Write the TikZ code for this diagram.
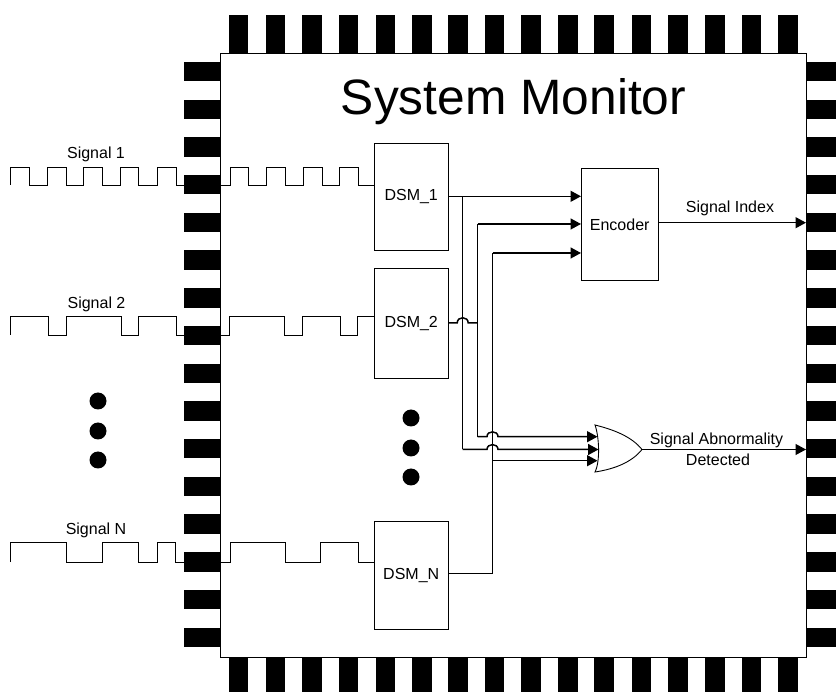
\documentclass[tikz,border=0pt]{standalone}
\usepackage{fontspec}
\setmainfont{Liberation Sans}
\usetikzlibrary{arrows.meta}
\tikzset{
  x=1pt,y=-1pt,
  pin/.style={fill=black,draw=none},
  thin line/.style={draw=black,line width=0.9pt,line join=miter},
  wire/.style={draw=black,line width=1.5pt,line join=miter},
  arrowwire/.style={wire,-{Triangle[length=10.5pt,width=11pt]}},
  block/.style={draw=black,line width=0.9pt,fill=white,inner sep=0pt,font=\fontsize{16}{19}\selectfont,anchor=north west},
  lbl/.style={inner sep=0pt,font=\fontsize{16}{19}\selectfont,align=center},
  bigdot/.style={fill=black,draw=none},
}
\begin{document}
\begin{tikzpicture}
\useasboundingbox (0,0) rectangle (836,692);
% pins
\foreach \x in {228.5,265.5,302,338.5,375.5,412,448,484.5,521,558,594,631.5,668,705,741.5,778}{
  \fill[pin] (\x,15) rectangle ++(19.5,38);
  \fill[pin] (\x,657) rectangle ++(19.5,35);
}
\foreach \k in {0,...,15}{
  \pgfmathsetmacro{\yy}{61.8+37.72*\k}
  \fill[pin] (184,\yy) rectangle ++(36,19.5);
  \fill[pin] (806,\yy) rectangle ++(30,19.5);
}
% chip
\node[draw=black,line width=1pt,fill=white,inner sep=0pt,minimum width=586pt,minimum height=604pt,anchor=north west] (chip) at (220,53) {};
\node[inner sep=0pt,font=\fontsize{49.7}{56}\selectfont] (title) at (513.5,102) {System Monitor};
% blocks
\node[block,minimum width=73.5pt,minimum height=107.5pt] (d1) at (374,142.7) {DSM\_1};
\node[block,minimum width=73.5pt,minimum height=110pt] (d2) at (374,267.8) {DSM\_2};
\node[block,minimum width=73.5pt,minimum height=108pt] (dn) at (374,520.8) {DSM\_N};
\node[block,minimum width=76.5pt,minimum height=112.5pt] (enc) at (581,167.7) {Encoder};
% coordinates
\coordinate (vA) at (462.7,196.3);
\coordinate (vB) at (477.7,224);
\coordinate (vC) at (492.7,253);
\coordinate (eA) at (581,196.3);
\coordinate (eB) at (581,224);
\coordinate (eC) at (581,253);
\coordinate (oA) at (597.5,436.7);
\coordinate (oB) at (598.5,449.5);
\coordinate (oC) at (597.5,460.7);
\coordinate (gate) at (642,449.5);
\coordinate (outE) at (806,222.7);
\coordinate (outG) at (806,449.5);
% waves
\draw[thin line] (10.5,185) -- (10.5,167) -- (29.5,167) -- (29.5,185) -- (47,185) -- (47,167) -- (66,167) -- (66,185) -- (83,185) -- (83,167) -- (102,167) -- (102,185) -- (120.5,185) -- (120.5,167) -- (138.5,167) -- (138.5,185) -- (157,185) -- (157,167) -- (176,167) -- (176,185) -- (184,185);
\draw[thin line] (220,185) -- (230,185) -- (230,167) -- (248,167) -- (248,185) -- (266.5,185) -- (266.5,167) -- (285.5,167) -- (285.5,185) -- (303,185) -- (303,167) -- (322,167) -- (322,185) -- (339,185) -- (339,167) -- (358,167) -- (358,185) -- (d1.west |- 0,185);
\draw[thin line] (10.5,335) -- (10.5,316.7) -- (48.5,316.7) -- (48.5,335) -- (66,335) -- (66,316.7) -- (121,316.7) -- (121,335) -- (138,335) -- (138,316.7) -- (176,316.7) -- (176,335) -- (184,335);
\draw[thin line] (220,335) -- (229.5,335) -- (229.5,316.7) -- (284.5,316.7) -- (284.5,335) -- (302,335) -- (302,316.7) -- (340,316.7) -- (340,335) -- (357,335) -- (357,316.7) -- (d2.west |- 0,316.7);
\draw[thin line] (10.5,562) -- (10.5,542.7) -- (66,542.7) -- (66,562) -- (102,562) -- (102,542.7) -- (138.5,542.7) -- (138.5,562) -- (157,562) -- (157,542.7) -- (175,542.7) -- (175,562) -- (184,562);
\draw[thin line] (220,562) -- (230.5,562) -- (230.5,542.7) -- (285,542.7) -- (285,562) -- (320.5,562) -- (320.5,542.7) -- (358.5,542.7) -- (358.5,562) -- (dn.west |- 0,562);
% OR gate
\path[draw=black,line width=0.9pt,fill=white] (595,425) .. controls (599,436) and (600.5,461) .. (595,472) .. controls (615,469) and (632,462) .. (gate) .. controls (632,437) and (615,430) .. cycle;
% wires
\draw[arrowwire] (d1.east |- eA) -- (eA);
\draw[wire] (vA) -- (vA |- oB);
\draw[arrowwire] (vA |- oB) -- (487,449.5) .. controls (487,443) and (498,443) .. (498,449.5) -- (oB);
\draw[wire] (d2.east |- 0,323) -- (457.2,323) .. controls (457.2,316) and (468.2,316) .. (468.2,323) -- (477.7,323);
\draw[wire] (vB |- oA) -- (vB);
\draw[arrowwire] (vB) -- (eB);
\draw[arrowwire] (vB |- oA) -- (487,436.7) .. controls (487,430.2) and (498,430.2) .. (498,436.7) -- (oA);
\draw[wire,line width=1.2pt] (dn.east |- 0,573.5) -- (vC |- 0,573.5) -- (vC);
\draw[arrowwire] (vC) -- (eC);
\draw[arrowwire] (vC |- oC) -- (oC);
\draw[arrowwire] (enc.east |- outE) -- (outE);
\draw[arrowwire,line width=1.2pt] (gate) -- (outG);
% labels
\node[lbl] (s1) at (96,154) {Signal 1};
\node[lbl] (s2) at (96.5,304) {Signal 2};
\node[lbl] (sn) at (96,530.5) {Signal N};
\node[lbl] (idx) at (730,208) {Signal Index};
\node[lbl] (abn) at (716.5,440) {Signal Abnormality};
\node[lbl] (det) at (718,459.5) {Detected};
% dots
\foreach \y in {401,431,460} \fill[bigdot] (98,\y) circle[radius=8.5];
\foreach \y in {418,448,477} \fill[bigdot] (411,\y) circle[radius=8.5];
\end{tikzpicture}
\end{document}
